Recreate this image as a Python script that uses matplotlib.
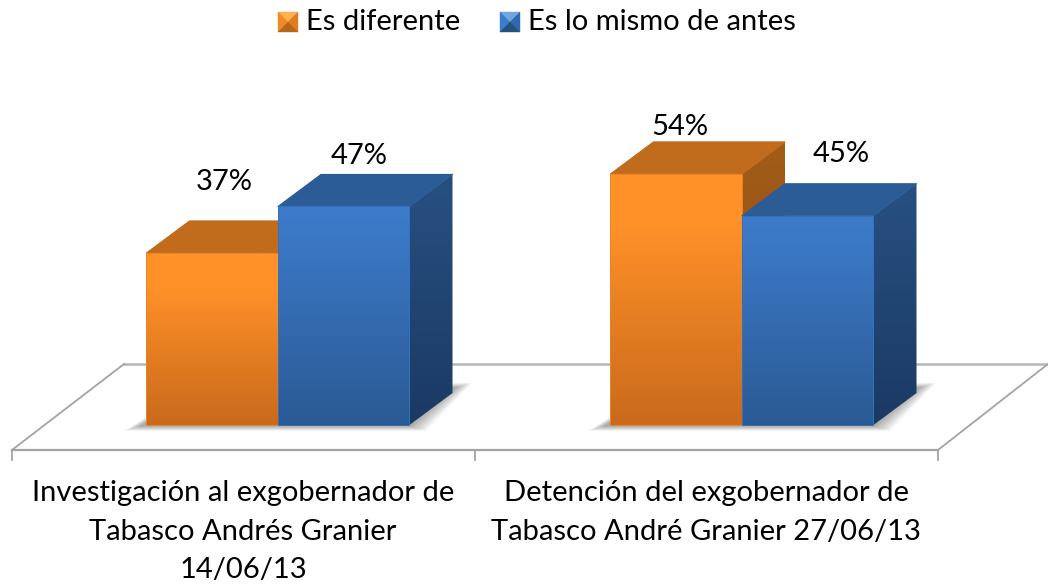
import numpy as np
import matplotlib
matplotlib.use('Agg')
import matplotlib.pyplot as plt
from matplotlib.colors import LinearSegmentedColormap
from matplotlib.patches import Polygon

plt.rcParams['font.family'] = ['Lato', 'DejaVu Sans']

# Dane
categories = ['Investigación al exgobernador de\nTabasco Andrés Granier\n14/06/13',
              'Detención del exgobernador de\nTabasco André Granier 27/06/13']
series_names = ['Es diferente', 'Es lo mismo de antes']
es_diferente = [37, 54]
es_lo_mismo = [47, 45]

# Geometria w pikselach
W, H = 1048, 584
BASE_PX = 425
PX_PER_UNIT = 4.65
PX_PER_CAT = 464
CENTER_0 = 278
BAR_W = 131.5 / PX_PER_CAT
DX = 43 / PX_PER_CAT
DY = 32 / PX_PER_UNIT
FS = 21

orange = {'front': ['#FF9128', '#FF9128', '#C96A1C'], 'top': '#C06C1C', 'side': ['#A35C18', '#8A4E14'],
          'edge': '#E8842A', 'icon': ['#FFB050', '#F08A26', '#E07C20', '#B8661A']}
blue = {'front': ['#3D7CCB', '#3A76C2', '#2A5A94'], 'top': '#2C5C96', 'side': ['#275082', '#1B3A63'],
        'edge': '#3570B8', 'icon': ['#6FA6E0', '#3D7CCB', '#2F68AE', '#24507F']}

fig = plt.figure(figsize=(W / 100, H / 100), dpi=100)

# Os pomocnicza w pikselach (podloga, legenda, teksty)
bg = fig.add_axes([0, 0, 1, 1])
bg.set_xlim(0, W)
bg.set_ylim(H, 0)
bg.axis('off')

# Podloga wykresu
grey = '#A3A3A3'
bg.plot([124, 610], [364, 364], color='#B5B5B5', lw=1.8)
bg.plot([874, 1048], [364, 364], color='#B5B5B5', lw=1.8)
bg.plot([12, 124], [450, 364], color=grey, lw=1.3)
bg.plot([938, 1048], [450, 364], color=grey, lw=1.3)
bg.plot([12, 938], [450, 450], color=grey, lw=1.6)
for tx in [12, 475, 938]:
    bg.plot([tx, tx], [450, 460], color=grey, lw=1.3)

# Os z danymi
ax = fig.add_axes([0, 0, 1, 1])
ax.patch.set_alpha(0)
ax.axis('off')
xlim = (-CENTER_0 / PX_PER_CAT, (W - CENTER_0) / PX_PER_CAT)
ylim = ((BASE_PX - H) / PX_PER_UNIT, BASE_PX / PX_PER_UNIT)


def draw_shadow(x0, x1):
    # rozmyty cien na podlodze
    for i in range(12):
        g = (11 - i) * 1.5 / PX_PER_CAT
        gy = (11 - i) * 0.45 / PX_PER_UNIT
        pts = [(x0 - 6 / PX_PER_CAT - g, -0.2 - gy), (x1 + g, -0.2 - gy),
               (x1 + 46 / PX_PER_CAT + g, 8.0 + gy), (x1, 8.0 + gy),
               (x0 + 10 / PX_PER_CAT, 2.0 + gy)]
        ax.add_patch(Polygon(pts, closed=True, facecolor='black', edgecolor='none', alpha=0.03, zorder=1))


def draw_bar(x0, val, style, z):
    x1 = x0 + BAR_W
    # sciana boczna
    side = Polygon([(x1, 0), (x1 + DX, DY), (x1 + DX, val + DY), (x1, val)], closed=True,
                   facecolor='none', edgecolor='none', zorder=z)
    ax.add_patch(side)
    cm_side = LinearSegmentedColormap.from_list('s', style['side'])
    im = ax.imshow(np.linspace(0, 1, 128).reshape(-1, 1), cmap=cm_side, aspect='auto', origin='upper',
                   extent=(x1, x1 + DX, 0, val + DY), zorder=z)
    im.set_clip_path(side)
    # gora
    ax.add_patch(Polygon([(x0, val), (x1, val), (x1 + DX, val + DY), (x0 + DX, val + DY)], closed=True,
                         facecolor=style['top'], edgecolor=style['top'], lw=0.8, joinstyle='round', zorder=z))
    # przod
    rect = ax.bar(x0, val, width=BAR_W, align='edge', color='none', edgecolor=style['edge'], lw=0.7, zorder=z + 0.2)[0]
    cm_front = LinearSegmentedColormap.from_list('f', [(0, style['front'][0]), (0.2, style['front'][1]),
                                                       (1, style['front'][2])])
    im2 = ax.imshow(np.linspace(0, 1, 256).reshape(-1, 1), cmap=cm_front, aspect='auto', origin='upper',
                    extent=(x0, x1, 0, val), zorder=z + 0.1)
    im2.set_clip_path(rect)


# Slupki
x_pos = np.arange(len(categories))
for i in x_pos:
    draw_shadow(i - BAR_W, i + BAR_W)
for i in x_pos:
    draw_bar(i - BAR_W, es_diferente[i], orange, 3 + i * 2)
    draw_bar(i, es_lo_mismo[i], blue, 3.5 + i * 2)
ax.set_xlim(*xlim)
ax.set_ylim(*ylim)

# Etykiety wartosci
offs_dif = [(12, 71), (4, 47)]
offs_mis = [(15, 50), (33, 62)]
for i in x_pos:
    ax.annotate(f'{es_diferente[i]}%', (i - BAR_W / 2, es_diferente[i]), xytext=offs_dif[i],
                textcoords='offset pixels', ha='center', va='center', fontsize=FS, color='black', zorder=20)
    ax.annotate(f'{es_lo_mismo[i]}%', (i + BAR_W / 2, es_lo_mismo[i]), xytext=offs_mis[i],
                textcoords='offset pixels', ha='center', va='center', fontsize=FS, color='black', zorder=20)

# Etykiety kategorii
for cx, lab in zip([243, 706], categories):
    bg.text(cx, 480, lab, ha='center', va='top', fontsize=FS, color='black', linespacing=1.6)


# Legenda
def legend_icon(x0, y0, size, cols):
    c = (x0 + size / 2, y0 + size / 2)
    a, b, d, e = (x0, y0), (x0 + size, y0), (x0 + size, y0 + size), (x0, y0 + size)
    for pts, col in [((a, b, c), cols[0]), ((a, e, c), cols[1]), ((b, d, c), cols[2]), ((e, d, c), cols[3])]:
        bg.add_patch(Polygon(pts, closed=True, facecolor=col, edgecolor=col, lw=0.3))


legend_icon(278, 12, 20, orange['icon'])
bg.text(306, 22, series_names[0], ha='left', va='center', fontsize=FS, color='black')
legend_icon(500, 12, 20, blue['icon'])
bg.text(528, 22, series_names[1], ha='left', va='center', fontsize=FS, color='black')

fig.savefig('out.png', dpi=100)
